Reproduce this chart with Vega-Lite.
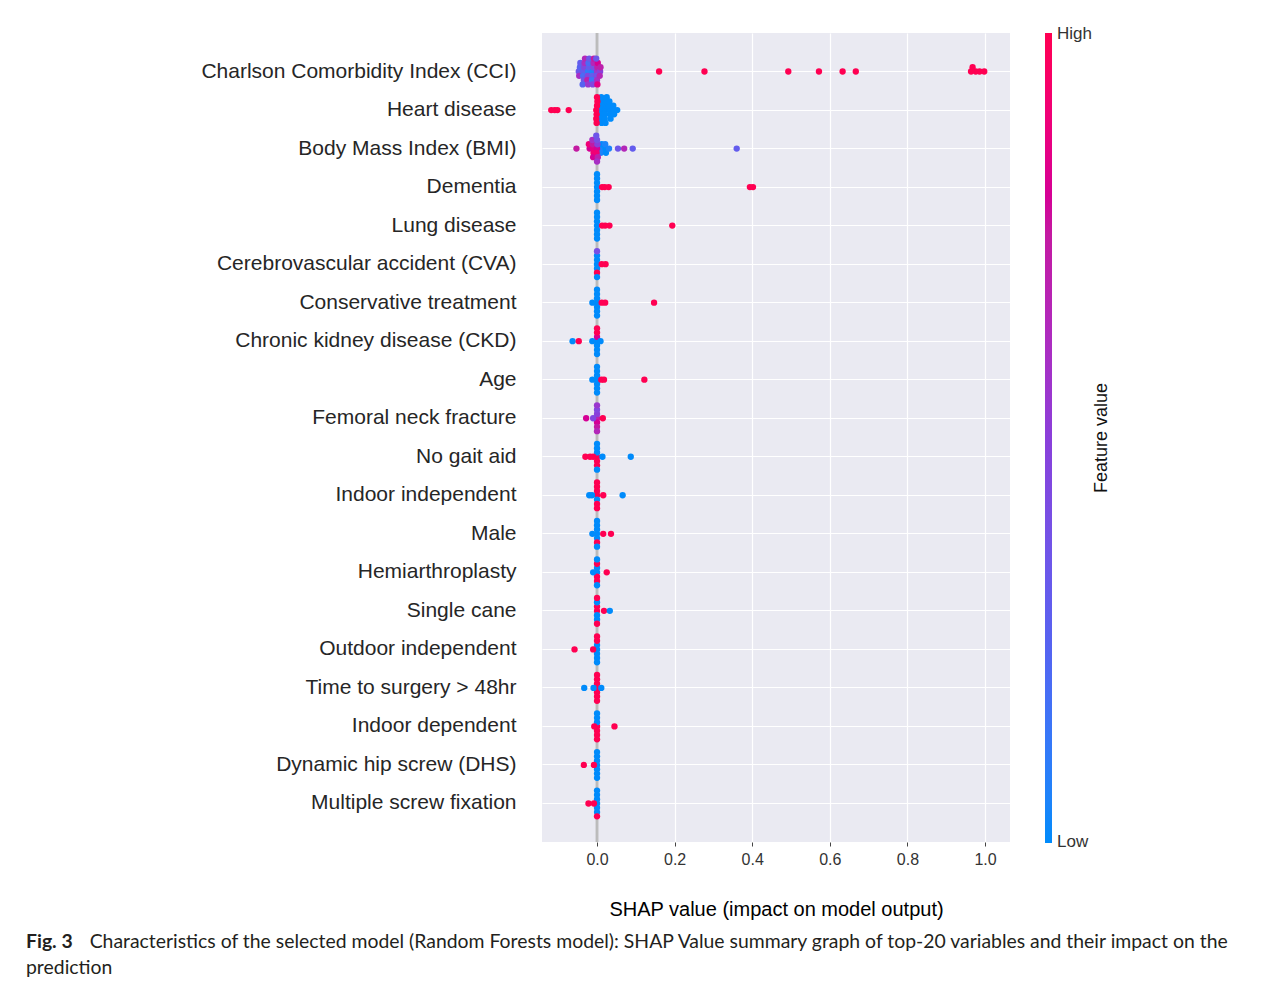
{
"$schema": "https://vega.github.io/schema/vega-lite/v6.json",
"width": 468,
"height": 809,
"autosize": {"type": "none"},
"padding": {"left": 542, "top": 33, "right": 277, "bottom": 143},
"background": "white",
"config": {"view": {"fill": "#eaeaf2", "strokeWidth": 0}, "font": "Liberation Sans"},
"title": {"text": "Fig. 3", "subtitle": ["\u2800\u00a0\u00a0\u00a0\u00a0\u00a0\u00a0\u00a0\u00a0\u00a0\u00a0Characteristics of the selected model (Random Forests model): SHAP Value summary graph of top-20 variables and their impact on the", "prediction"], "orient": "bottom", "anchor": "start", "frame": "group", "dx": -516, "offset": 14, "font": "Lato", "fontSize": 19.4, "fontWeight": "bold", "color": "#231f20", "subtitleFont": "Lato", "subtitleFontSize": 19.4, "subtitleColor": "#231f20", "subtitlePadding": -19.4, "subtitleLineHeight": 26},
"data": {"values": [
{"f":"Charlson Comorbidity Index (CCI)","s":-0.047,"v":0.35},{"f":"Charlson Comorbidity Index (CCI)","s":-0.044,"v":0.25},{"f":"Charlson Comorbidity Index (CCI)","s":-0.046,"v":0.6},{"f":"Charlson Comorbidity Index (CCI)","s":-0.043,"v":0.3},
{"f":"Charlson Comorbidity Index (CCI)","s":-0.035,"v":0.3},{"f":"Charlson Comorbidity Index (CCI)","s":-0.033,"v":0.45},{"f":"Charlson Comorbidity Index (CCI)","s":-0.036,"v":0.2},{"f":"Charlson Comorbidity Index (CCI)","s":-0.032,"v":0.6},{"f":"Charlson Comorbidity Index (CCI)","s":-0.034,"v":0.35},{"f":"Charlson Comorbidity Index (CCI)","s":-0.031,"v":0.65},{"f":"Charlson Comorbidity Index (CCI)","s":-0.037,"v":0.25},
{"f":"Charlson Comorbidity Index (CCI)","s":-0.023,"v":0.1},{"f":"Charlson Comorbidity Index (CCI)","s":-0.021,"v":0.3},{"f":"Charlson Comorbidity Index (CCI)","s":-0.024,"v":0.45},{"f":"Charlson Comorbidity Index (CCI)","s":-0.022,"v":0.2},{"f":"Charlson Comorbidity Index (CCI)","s":-0.025,"v":0.7},{"f":"Charlson Comorbidity Index (CCI)","s":-0.02,"v":0.35},{"f":"Charlson Comorbidity Index (CCI)","s":-0.023,"v":0.55},
{"f":"Charlson Comorbidity Index (CCI)","s":-0.011,"v":0.05},{"f":"Charlson Comorbidity Index (CCI)","s":-0.01,"v":0.4},{"f":"Charlson Comorbidity Index (CCI)","s":-0.012,"v":0.3},{"f":"Charlson Comorbidity Index (CCI)","s":-0.009,"v":0.65},{"f":"Charlson Comorbidity Index (CCI)","s":-0.013,"v":0.15},{"f":"Charlson Comorbidity Index (CCI)","s":-0.008,"v":0.75},{"f":"Charlson Comorbidity Index (CCI)","s":-0.011,"v":0.45},
{"f":"Charlson Comorbidity Index (CCI)","s":0,"v":0.55},{"f":"Charlson Comorbidity Index (CCI)","s":0.001,"v":0.7},{"f":"Charlson Comorbidity Index (CCI)","s":-0.001,"v":0.4},{"f":"Charlson Comorbidity Index (CCI)","s":0.002,"v":0.8},{"f":"Charlson Comorbidity Index (CCI)","s":0,"v":0.6},{"f":"Charlson Comorbidity Index (CCI)","s":-0.002,"v":0.35},{"f":"Charlson Comorbidity Index (CCI)","s":0.001,"v":0.85},
{"f":"Charlson Comorbidity Index (CCI)","s":0.008,"v":0.5},{"f":"Charlson Comorbidity Index (CCI)","s":0.009,"v":0.7},{"f":"Charlson Comorbidity Index (CCI)","s":0.007,"v":0.65},
{"f":"Charlson Comorbidity Index (CCI)","s":0.16,"v":1},{"f":"Charlson Comorbidity Index (CCI)","s":0.277,"v":1},{"f":"Charlson Comorbidity Index (CCI)","s":0.493,"v":1},{"f":"Charlson Comorbidity Index (CCI)","s":0.572,"v":1},{"f":"Charlson Comorbidity Index (CCI)","s":0.633,"v":1},{"f":"Charlson Comorbidity Index (CCI)","s":0.667,"v":1},{"f":"Charlson Comorbidity Index (CCI)","s":0.964,"v":1},{"f":"Charlson Comorbidity Index (CCI)","s":0.976,"v":1},{"f":"Charlson Comorbidity Index (CCI)","s":0.968,"v":1},{"f":"Charlson Comorbidity Index (CCI)","s":0.986,"v":1},{"f":"Charlson Comorbidity Index (CCI)","s":0.998,"v":1},
{"f":"Heart disease","s":0.01,"v":0},{"f":"Heart disease","s":0.012,"v":0},{"f":"Heart disease","s":0.011,"v":0},{"f":"Heart disease","s":0.013,"v":0},{"f":"Heart disease","s":0.009,"v":0},{"f":"Heart disease","s":0.011,"v":0},{"f":"Heart disease","s":0.012,"v":0},
{"f":"Heart disease","s":0.022,"v":0},{"f":"Heart disease","s":0.024,"v":0},{"f":"Heart disease","s":0.021,"v":0},{"f":"Heart disease","s":0.023,"v":0},{"f":"Heart disease","s":0.02,"v":0},{"f":"Heart disease","s":0.025,"v":0},{"f":"Heart disease","s":0.022,"v":0},
{"f":"Heart disease","s":0.033,"v":0},{"f":"Heart disease","s":0.031,"v":0},{"f":"Heart disease","s":0.034,"v":0},{"f":"Heart disease","s":0.032,"v":0},{"f":"Heart disease","s":0.035,"v":0},
{"f":"Heart disease","s":0.043,"v":0},{"f":"Heart disease","s":0.042,"v":0},{"f":"Heart disease","s":0.044,"v":0},{"f":"Heart disease","s":0.052,"v":0},
{"f":"Heart disease","s":-0.002,"v":1},{"f":"Heart disease","s":0,"v":1},{"f":"Heart disease","s":-0.001,"v":1},{"f":"Heart disease","s":0.001,"v":1},{"f":"Heart disease","s":-0.002,"v":1},{"f":"Heart disease","s":0,"v":1},{"f":"Heart disease","s":-0.001,"v":1},
{"f":"Heart disease","s":-0.118,"v":1},{"f":"Heart disease","s":-0.109,"v":1},{"f":"Heart disease","s":-0.102,"v":1},{"f":"Heart disease","s":-0.073,"v":1},
{"f":"Body Mass Index (BMI)","s":-0.053,"v":0.75},
{"f":"Body Mass Index (BMI)","s":0.011,"v":0.05},{"f":"Body Mass Index (BMI)","s":0.012,"v":0},{"f":"Body Mass Index (BMI)","s":0.01,"v":0.05},{"f":"Body Mass Index (BMI)","s":0.022,"v":0},{"f":"Body Mass Index (BMI)","s":0.021,"v":0.05},{"f":"Body Mass Index (BMI)","s":0.023,"v":0},{"f":"Body Mass Index (BMI)","s":0.031,"v":0.05},
{"f":"Body Mass Index (BMI)","s":-0.019,"v":0.8},{"f":"Body Mass Index (BMI)","s":-0.021,"v":0.9},
{"f":"Body Mass Index (BMI)","s":-0.01,"v":0.85},{"f":"Body Mass Index (BMI)","s":-0.011,"v":0.75},{"f":"Body Mass Index (BMI)","s":-0.009,"v":0.9},{"f":"Body Mass Index (BMI)","s":-0.012,"v":0.6},{"f":"Body Mass Index (BMI)","s":-0.01,"v":0.8},
{"f":"Body Mass Index (BMI)","s":0,"v":0.8},{"f":"Body Mass Index (BMI)","s":0.001,"v":0.5},{"f":"Body Mass Index (BMI)","s":-0.001,"v":0.9},{"f":"Body Mass Index (BMI)","s":0,"v":0.4},{"f":"Body Mass Index (BMI)","s":0.002,"v":0.7},{"f":"Body Mass Index (BMI)","s":-0.002,"v":0.35},{"f":"Body Mass Index (BMI)","s":0,"v":0.6},
{"f":"Body Mass Index (BMI)","s":0.054,"v":0.35},{"f":"Body Mass Index (BMI)","s":0.07,"v":0.65},{"f":"Body Mass Index (BMI)","s":0.092,"v":0.3},{"f":"Body Mass Index (BMI)","s":0.36,"v":0.3},
{"f":"Dementia","s":0,"v":0},{"f":"Dementia","s":0,"v":0},{"f":"Dementia","s":0,"v":0},{"f":"Dementia","s":0,"v":0},{"f":"Dementia","s":0,"v":0},{"f":"Dementia","s":0,"v":0},{"f":"Dementia","s":0,"v":0},
{"f":"Dementia","s":0.013,"v":1},{"f":"Dementia","s":0.02,"v":1},{"f":"Dementia","s":0.03,"v":1},{"f":"Dementia","s":0.394,"v":1},{"f":"Dementia","s":0.402,"v":1},
{"f":"Lung disease","s":0,"v":0},{"f":"Lung disease","s":0,"v":0},{"f":"Lung disease","s":0,"v":0},{"f":"Lung disease","s":0,"v":0},{"f":"Lung disease","s":0,"v":0},{"f":"Lung disease","s":0,"v":0},{"f":"Lung disease","s":0,"v":0},
{"f":"Lung disease","s":0.013,"v":1},{"f":"Lung disease","s":0.021,"v":1},{"f":"Lung disease","s":0.032,"v":1},{"f":"Lung disease","s":0.194,"v":1},
{"f":"Cerebrovascular accident (CVA)","s":0,"v":0},{"f":"Cerebrovascular accident (CVA)","s":0,"v":0},{"f":"Cerebrovascular accident (CVA)","s":0,"v":0},{"f":"Cerebrovascular accident (CVA)","s":0,"v":0},{"f":"Cerebrovascular accident (CVA)","s":0,"v":1},{"f":"Cerebrovascular accident (CVA)","s":0,"v":0.4},{"f":"Cerebrovascular accident (CVA)","s":0,"v":0},
{"f":"Cerebrovascular accident (CVA)","s":0.012,"v":1},{"f":"Cerebrovascular accident (CVA)","s":0.022,"v":1},
{"f":"Conservative treatment","s":0,"v":0},{"f":"Conservative treatment","s":0,"v":0},{"f":"Conservative treatment","s":0,"v":0},{"f":"Conservative treatment","s":0,"v":0},{"f":"Conservative treatment","s":0,"v":0},{"f":"Conservative treatment","s":0,"v":0},{"f":"Conservative treatment","s":0,"v":0},
{"f":"Conservative treatment","s":-0.012,"v":0},{"f":"Conservative treatment","s":0.012,"v":1},{"f":"Conservative treatment","s":0.021,"v":1},{"f":"Conservative treatment","s":0.147,"v":1},
{"f":"Chronic kidney disease (CKD)","s":0,"v":0},{"f":"Chronic kidney disease (CKD)","s":0,"v":0.8},{"f":"Chronic kidney disease (CKD)","s":0,"v":0},{"f":"Chronic kidney disease (CKD)","s":0,"v":1},{"f":"Chronic kidney disease (CKD)","s":0,"v":0},{"f":"Chronic kidney disease (CKD)","s":0,"v":1},{"f":"Chronic kidney disease (CKD)","s":0,"v":0},
{"f":"Chronic kidney disease (CKD)","s":-0.063,"v":0},{"f":"Chronic kidney disease (CKD)","s":-0.047,"v":1},{"f":"Chronic kidney disease (CKD)","s":-0.012,"v":0},{"f":"Chronic kidney disease (CKD)","s":0.009,"v":0},
{"f":"Age","s":0,"v":0},{"f":"Age","s":0,"v":0},{"f":"Age","s":0,"v":0},{"f":"Age","s":0,"v":0},{"f":"Age","s":0,"v":0},{"f":"Age","s":0,"v":0},{"f":"Age","s":0,"v":0},
{"f":"Age","s":-0.012,"v":0},{"f":"Age","s":0.011,"v":1},{"f":"Age","s":0.018,"v":1},{"f":"Age","s":0.122,"v":1},
{"f":"Femoral neck fracture","s":0,"v":0.7},{"f":"Femoral neck fracture","s":0,"v":0.5},{"f":"Femoral neck fracture","s":0,"v":0.8},{"f":"Femoral neck fracture","s":0,"v":0.45},{"f":"Femoral neck fracture","s":0,"v":0.75},{"f":"Femoral neck fracture","s":0,"v":0.55},{"f":"Femoral neck fracture","s":0,"v":0.65},
{"f":"Femoral neck fracture","s":-0.028,"v":0.8},{"f":"Femoral neck fracture","s":-0.01,"v":0.45},{"f":"Femoral neck fracture","s":0.015,"v":1},
{"f":"No gait aid","s":0,"v":1},{"f":"No gait aid","s":0,"v":0},{"f":"No gait aid","s":0,"v":1},{"f":"No gait aid","s":0,"v":0},{"f":"No gait aid","s":0,"v":1},{"f":"No gait aid","s":0,"v":0},{"f":"No gait aid","s":0,"v":0},
{"f":"No gait aid","s":-0.03,"v":1},{"f":"No gait aid","s":-0.018,"v":1},{"f":"No gait aid","s":-0.01,"v":1},{"f":"No gait aid","s":0.014,"v":0},{"f":"No gait aid","s":0.087,"v":0},
{"f":"Indoor independent","s":0,"v":1},{"f":"Indoor independent","s":0,"v":1},{"f":"Indoor independent","s":0,"v":0},{"f":"Indoor independent","s":0,"v":1},{"f":"Indoor independent","s":0,"v":1},{"f":"Indoor independent","s":0,"v":1},{"f":"Indoor independent","s":0,"v":1},
{"f":"Indoor independent","s":-0.02,"v":0},{"f":"Indoor independent","s":-0.013,"v":0},{"f":"Indoor independent","s":0.016,"v":1},{"f":"Indoor independent","s":0.066,"v":0},
{"f":"Male","s":0,"v":0},{"f":"Male","s":0,"v":0},{"f":"Male","s":0,"v":0},{"f":"Male","s":0,"v":0},{"f":"Male","s":0,"v":1},{"f":"Male","s":0,"v":0},{"f":"Male","s":0,"v":0},
{"f":"Male","s":-0.012,"v":0},{"f":"Male","s":0.016,"v":1},{"f":"Male","s":0.036,"v":1},
{"f":"Hemiarthroplasty","s":0,"v":0},{"f":"Hemiarthroplasty","s":0,"v":0},{"f":"Hemiarthroplasty","s":0,"v":1},{"f":"Hemiarthroplasty","s":0,"v":1},{"f":"Hemiarthroplasty","s":0,"v":1},{"f":"Hemiarthroplasty","s":0,"v":0},{"f":"Hemiarthroplasty","s":0,"v":0},
{"f":"Hemiarthroplasty","s":-0.01,"v":0},{"f":"Hemiarthroplasty","s":0.025,"v":1},
{"f":"Single cane","s":0,"v":1},{"f":"Single cane","s":0,"v":1},{"f":"Single cane","s":0,"v":0},{"f":"Single cane","s":0,"v":0},{"f":"Single cane","s":0,"v":0},{"f":"Single cane","s":0,"v":1},{"f":"Single cane","s":0,"v":1},
{"f":"Single cane","s":0.018,"v":1},{"f":"Single cane","s":0.033,"v":0},
{"f":"Outdoor independent","s":0,"v":0},{"f":"Outdoor independent","s":0,"v":0},{"f":"Outdoor independent","s":0,"v":0},{"f":"Outdoor independent","s":0,"v":1},{"f":"Outdoor independent","s":0,"v":0},{"f":"Outdoor independent","s":0,"v":1},{"f":"Outdoor independent","s":0,"v":0},
{"f":"Outdoor independent","s":-0.058,"v":1},{"f":"Outdoor independent","s":-0.01,"v":1},
{"f":"Time to surgery > 48hr","s":0,"v":1},{"f":"Time to surgery > 48hr","s":0,"v":1},{"f":"Time to surgery > 48hr","s":0,"v":1},{"f":"Time to surgery > 48hr","s":0,"v":1},{"f":"Time to surgery > 48hr","s":0,"v":1},{"f":"Time to surgery > 48hr","s":0,"v":1},{"f":"Time to surgery > 48hr","s":0,"v":1},
{"f":"Time to surgery > 48hr","s":-0.033,"v":0},{"f":"Time to surgery > 48hr","s":-0.009,"v":0},{"f":"Time to surgery > 48hr","s":0.011,"v":0},
{"f":"Indoor dependent","s":0,"v":1},{"f":"Indoor dependent","s":0,"v":0},{"f":"Indoor dependent","s":0,"v":1},{"f":"Indoor dependent","s":0,"v":0},{"f":"Indoor dependent","s":0,"v":1},{"f":"Indoor dependent","s":0,"v":0},{"f":"Indoor dependent","s":0,"v":1},
{"f":"Indoor dependent","s":-0.007,"v":1},{"f":"Indoor dependent","s":0.045,"v":1},
{"f":"Dynamic hip screw (DHS)","s":0,"v":0},{"f":"Dynamic hip screw (DHS)","s":0,"v":0},{"f":"Dynamic hip screw (DHS)","s":0,"v":0},{"f":"Dynamic hip screw (DHS)","s":0,"v":0},{"f":"Dynamic hip screw (DHS)","s":0,"v":0},{"f":"Dynamic hip screw (DHS)","s":0,"v":0},{"f":"Dynamic hip screw (DHS)","s":0,"v":0},
{"f":"Dynamic hip screw (DHS)","s":-0.034,"v":1},{"f":"Dynamic hip screw (DHS)","s":-0.008,"v":1},
{"f":"Multiple screw fixation","s":0,"v":0},{"f":"Multiple screw fixation","s":0,"v":0},{"f":"Multiple screw fixation","s":0,"v":0},{"f":"Multiple screw fixation","s":0,"v":0},{"f":"Multiple screw fixation","s":0,"v":0},{"f":"Multiple screw fixation","s":0,"v":0},{"f":"Multiple screw fixation","s":0,"v":1},
{"f":"Multiple screw fixation","s":-0.022,"v":1},{"f":"Multiple screw fixation","s":-0.008,"v":1}
]},
"layer": [
{"data": {"values": [{"z": 0}]}, "mark": {"type": "rule", "color": "#a3a3a3", "strokeWidth": 2.6},
 "encoding": {"x": {"field": "z", "type": "quantitative", "scale": {"domain": [-0.1418, 1.0644], "nice": false, "zero": false}, "title": "SHAP value (impact on model output)"}}},
{"data": {"values": [{"z": 0}]}, "mark": {"type": "rule", "color": "#e2e2e2", "strokeWidth": 0.8},
 "encoding": {"x": {"field": "z", "type": "quantitative", "title": "SHAP value (impact on model output)"}}},
{"transform": [
  {"calculate": "round(datum.s*90)", "as": "b"},
  {"window": [{"op": "row_number", "as": "n"}], "groupby": ["f", "b"]},
  {"calculate": "(datum.n % 2 == 0 ? -1 : 1) * floor(datum.n/2) * 4.3", "as": "off"}
 ],
 "mark": {"type": "circle", "size": 40, "opacity": 1},
 "encoding": {
  "x": {"field": "s", "type": "quantitative", "title": "SHAP value (impact on model output)",
        "axis": {"values": [0, 0.2, 0.4, 0.6, 0.8, 1.0], "format": ".1f", "domain": false, "tickColor": "#444", "tickSize": 4, "labelPadding": 5, "labelFontSize": 16, "labelColor": "#333", "labelFont": "Liberation Sans", "grid": true, "gridColor": "white", "gridWidth": 1.2, "titleFontSize": 20, "titleFontWeight": "normal", "titleColor": "#000", "titleFont": "Liberation Sans", "titlePadding": 32}},
  "y": {"field": "f", "type": "nominal", "sort": ["Charlson Comorbidity Index (CCI)","Heart disease","Body Mass Index (BMI)","Dementia","Lung disease","Cerebrovascular accident (CVA)","Conservative treatment","Chronic kidney disease (CKD)","Age","Femoral neck fracture","No gait aid","Indoor independent","Male","Hemiarthroplasty","Single cane","Outdoor independent","Time to surgery > 48hr","Indoor dependent","Dynamic hip screw (DHS)","Multiple screw fixation"],
        "scale": {"type": "band", "paddingInner": 0, "paddingOuter": 0.5},
        "axis": {"title": null, "domain": false, "ticks": false, "grid": true, "gridColor": "white", "gridWidth": 1.2, "bandPosition": 0.5, "labelFontSize": 21, "labelColor": "#262626", "labelFont": "Liberation Sans", "labelPadding": 26, "labelLimit": 1000}},
  "yOffset": {"field": "off", "type": "quantitative", "scale": {"domain": [-19.26, 19.26], "range": [0, 38.52]}},
  "color": {"field": "v", "type": "quantitative",
    "scale": {"domain": [0, 1], "range": ["#008bfb", "#5762f0", "#8a3fda", "#c31aa2", "#ff0052"]},
    "legend": {"title": null, "orient": "right", "offset": -65, "padding": 0, "direction": "vertical", "gradientLength": 810, "gradientThickness": 7, "gradientStrokeWidth": 0, "values": [0.001, 0.999], "labelExpr": "datum.value >= 0.5 ? 'High' : 'Low'", "labelFontSize": 17, "labelFont": "Liberation Sans", "labelColor": "#333", "labelOffset": 5}}
 }},
{"mark": {"type": "point", "opacity": 0},
 "encoding": {
  "y": {"field": "f", "type": "nominal", "sort": ["Charlson Comorbidity Index (CCI)","Heart disease","Body Mass Index (BMI)","Dementia","Lung disease","Cerebrovascular accident (CVA)","Conservative treatment","Chronic kidney disease (CKD)","Age","Femoral neck fracture","No gait aid","Indoor independent","Male","Hemiarthroplasty","Single cane","Outdoor independent","Time to surgery > 48hr","Indoor dependent","Dynamic hip screw (DHS)","Multiple screw fixation"],
        "axis": {"orient": "right", "labels": false, "ticks": false, "domain": false, "grid": false, "title": "Feature value", "titleAngle": 270, "titleBaseline": "top", "titleFontSize": 18, "titleFont": "Liberation Sans", "titleFontWeight": "normal", "titleColor": "#111", "titlePadding": 82}}
 }}
],
"resolve": {"scale": {"x": "shared", "y": "shared"}, "axis": {"y": "independent"}}
}
